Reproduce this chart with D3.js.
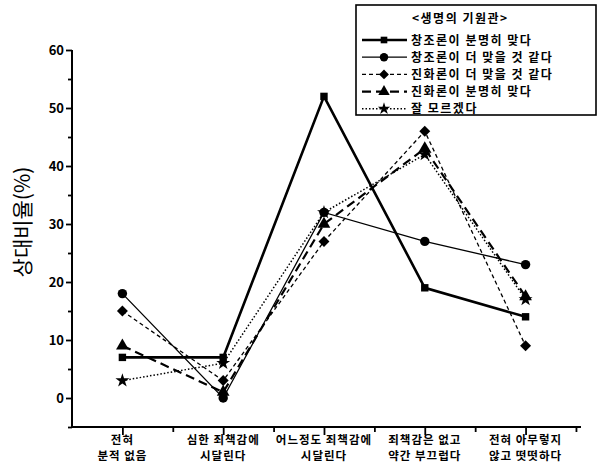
<!DOCTYPE html>
<html>
<head>
<meta charset="utf-8">
<script src="https://cdn.jsdelivr.net/npm/d3@7"></script>
<style>
body { margin: 0; background: #fff; }
text { font-family: "Noto Sans CJK KR", "Liberation Sans", sans-serif; }
</style>
</head>
<body>
<svg id="chart" width="600" height="473"></svg>
<script>
var categories = [["전혀", "분적 없음"], ["심한 죄책감에", "시달린다"], ["어느정도 죄책감에", "시달린다"],
                  ["죄책감은 없고", "약간 부끄럽다"], ["전혀 아무렇지", "않고 떳떳하다"]];
var seriesNames = ["창조론이 분명히 맞다", "창조론이 더 맞을 것 같다", "진화론이 더 맞을 것 같다",
                   "진화론이 분명히 맞다", "잘 모르겠다"];
var creationSure = [7, 7, 52, 19, 14];
var creationMore = [18, 0, 32, 27, 23];
var evolutionMore = [15, 3, 27, 46, 9];
var evolutionSure = [9, 1, 30, 43, 17.5];
var dontKnow = [3, 6, 32, 42, 17];
var yTicks = [0, 10, 20, 30, 40, 50, 60];

var allSeries = [creationSure, creationMore, evolutionMore, evolutionSure, dontKnow];
var styles = [
  {sym: d3.symbolSquare, size: 55, rot: 0, width: 2.6, dash: null},
  {sym: d3.symbolCircle, size: 70, rot: 0, width: 1.3, dash: null},
  {sym: d3.symbolSquare, size: 60, rot: 45, width: 1.3, dash: "4,3"},
  {sym: d3.symbolTriangle, size: 70, rot: 0, width: 2.2, dash: "9,5"},
  {sym: d3.symbolStar, size: 60, rot: 0, width: 1.5, dash: "1.5,2"}
];

var svg = d3.select("#chart");
var x = d3.scaleLinear().domain([0.5, 5.55]).range([72, 581]);
var y = d3.scaleLinear().domain([-5, 60]).range([427, 50]);

// axes
var yAxis = d3.axisLeft(y).tickValues(d3.range(-5, 61, 5)).tickSize(5).tickFormat(function (d) {
  return yTicks.indexOf(d) >= 0 ? d : "";
});
var gy = svg.append("g").attr("transform", "translate(72,0)").call(yAxis);
gy.selectAll("text").attr("font-family", "Liberation Sans, Arial").attr("font-weight", "bold")
  .attr("font-size", 13).attr("fill", "#000").attr("x", -8);
gy.selectAll(".tick line").attr("stroke-width", 1.8).attr("x2", function (d) { return d % 10 === 0 ? -6 : -4; });
gy.select(".domain").attr("stroke-width", 2).attr("d", "M0,427V50");

var xAxis = d3.axisBottom(x).tickValues(d3.range(1, 5.6, 0.5)).tickSize(5).tickFormat("");
var gx = svg.append("g").attr("transform", "translate(0,427)").call(xAxis);
gx.selectAll(".tick line").attr("stroke-width", 1.8).attr("y2", function (d) { return d % 1 === 0 ? 8 : 5; });
gx.select(".domain").attr("stroke-width", 2).attr("d", "M72,0H581");

categories.forEach(function (c, i) {
  c.forEach(function (part, j) {
    svg.append("text").attr("x", x(i + 1)).attr("y", 444 + j * 16).attr("text-anchor", "middle")
      .attr("font-size", 11.5).attr("font-weight", "bold").attr("letter-spacing", 1).text(part);
  });
});

svg.append("text").attr("transform", "translate(30,222) rotate(-90)").attr("text-anchor", "middle")
  .attr("font-size", 21).text("상대비율(%)");

// series
var line = d3.line().x(function (d, i) { return x(i + 1); }).y(function (d) { return y(d); });
allSeries.forEach(function (s, k) {
  var st = styles[k];
  svg.append("path").datum(s).attr("d", line).attr("fill", "none").attr("stroke", "#000")
    .attr("stroke-width", st.width).attr("stroke-dasharray", st.dash);
  svg.selectAll(".pt" + k).data(s).enter().append("path")
    .attr("transform", function (d, i) { return "translate(" + x(i + 1) + "," + y(d) + ") rotate(" + st.rot + ")"; })
    .attr("d", d3.symbol().type(st.sym).size(st.size)).attr("fill", "#000");
});

// legend
var lg = svg.append("g");
lg.append("rect").attr("x", 356).attr("y", 5).attr("width", 240).attr("height", 110)
  .attr("fill", "#fff").attr("stroke", "#000").attr("stroke-width", 1.6);
lg.append("text").attr("x", 412).attr("y", 23).attr("font-size", 12).attr("font-weight", "bold")
  .attr("letter-spacing", 1.5).text("<생명의 기원관>");
seriesNames.forEach(function (n, k) {
  var st = styles[k];
  var yy = 40 + k * 17.2;
  lg.append("line").attr("x1", 362).attr("x2", 407).attr("y1", yy).attr("y2", yy).attr("stroke", "#000")
    .attr("stroke-width", st.width).attr("stroke-dasharray", st.dash);
  lg.append("path").attr("transform", "translate(384," + yy + ") rotate(" + st.rot + ")")
    .attr("d", d3.symbol().type(st.sym).size(st.size * 0.8)).attr("fill", "#000");
  lg.append("text").attr("x", 411).attr("y", yy + 4.5).attr("font-size", 12).attr("font-weight", "bold")
    .attr("letter-spacing", 1.5).text(n);
});
</script>
</body>
</html>
